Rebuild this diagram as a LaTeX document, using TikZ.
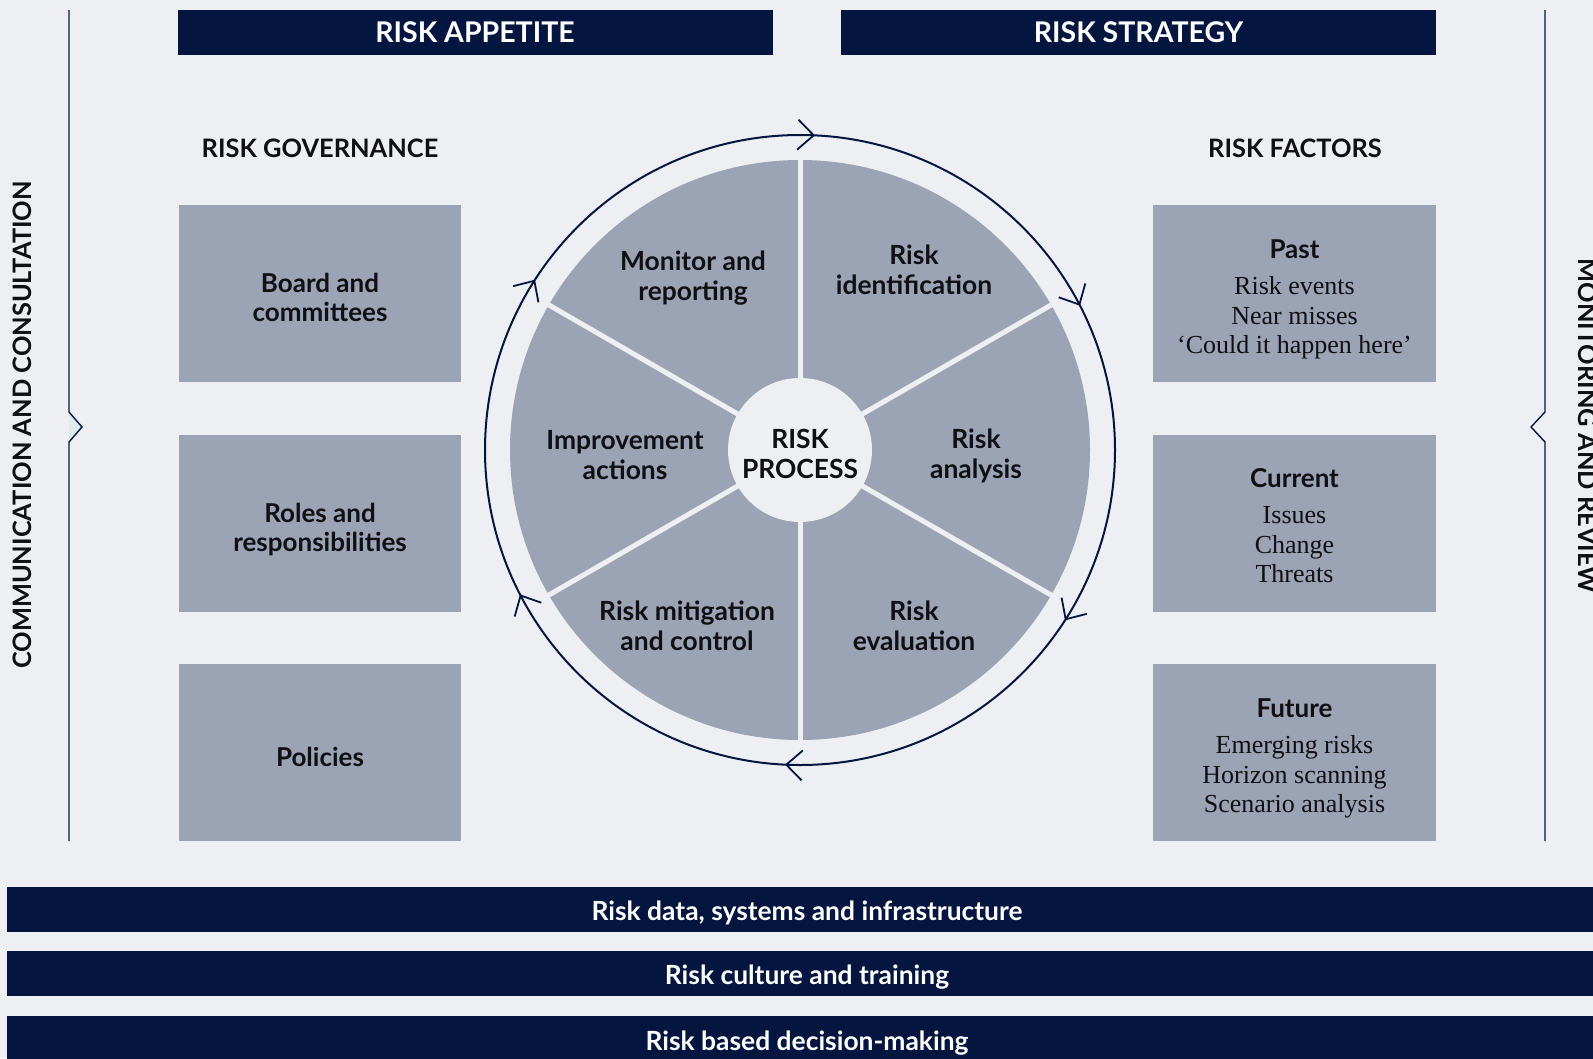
\documentclass[tikz,border=0pt]{standalone}
\usepackage{fontspec}
\setmainfont{Lato}
\newfontfamily\serifb{Liberation Serif}
\definecolor{navy}{RGB}{4,22,64}
\definecolor{bg}{RGB}{237,239,243}
\definecolor{boxg}{RGB}{155,163,181}
\definecolor{ink}{RGB}{15,15,20}
\definecolor{mint}{RGB}{222,236,236}
\begin{document}
\begin{tikzpicture}[x=1pt,y=-1pt,
  topbar/.style={fill=navy,draw=none,minimum width=595pt,minimum height=45pt,inner sep=0pt},
  toptext/.style={text=white,font=\fontsize{28.5}{30}\selectfont\bfseries,inner sep=0pt},
  lowbar/.style={fill=navy,draw=none,minimum width=1610pt,minimum height=45pt,inner sep=0pt},
  lowtext/.style={text=white,font=\fontsize{26.4}{28}\selectfont\bfseries,inner sep=0pt},
  heading/.style={text=ink,font=\fontsize{25.4}{30}\selectfont\bfseries,inner sep=0pt},
  gbox/.style={fill=boxg,draw=none,minimum width=282pt,minimum height=177pt,inner sep=0pt},
  boxlabel/.style={align=center,text=ink,font=\fontsize{26}{29.5}\selectfont\bfseries,inner sep=0pt},
  factlabel/.style={align=center,text=ink,font=\fontsize{26}{29.5}\selectfont,inner sep=0pt},
  seg/.style={align=center,text=ink,font=\fontsize{26.4}{29.5}\selectfont\bfseries,inner sep=0pt},
  sideline/.style={draw=navy,line width=1.4pt},
  ring/.style={draw=navy,line width=2pt},
  barb/.style={draw=navy,line width=1.8pt,line join=miter},
  sepline/.style={draw=bg,line width=5pt}
]
\useasboundingbox (0,0) rectangle (1593,1058);
\clip (0,0) rectangle (1593,1058);
\fill[bg] (0,0) rectangle (1593,1058);

% top bars
\node[topbar] (appetite) at (475,32.5) {};
\node[toptext] (appetitet) at (appetite.center) {RISK APPETITE};
\node[topbar] (strategy) at (1138.5,32.5) {};
\node[toptext] (strategyt) at (strategy.center) {RISK STRATEGY};

% side lines
\fill[mint] (69,412) -- (82,427) -- (69,442) -- cycle;
\draw[sideline] (69,10) -- (69,412) -- (82,427) -- (69,442) -- (69,841);
\draw[sideline] (1545,10) -- (1545,412) -- (1531,427) -- (1545,442) -- (1545,841);
\node[heading,rotate=90] (comm) at (22,425) {COMMUNICATION AND CONSULTATION};
\node[heading,rotate=-90] (monitor) at (1588,426) {MONITORING AND REVIEW};

% headings
\node[heading] (gov) at (320,148) {RISK GOVERNANCE};
\node[heading] (fac) at (1295,148) {RISK FACTORS};

% governance boxes
\node[gbox] (board) at (320,293.5) {};
\node[boxlabel] (boardt) at ([yshift=-4pt]board.center) {Board and\\committees};
\node[gbox] (roles) at (320,523.5) {};
\node[boxlabel] (rolest) at ([yshift=-6pt]roles.center) {Roles and\\responsibilities};
\node[gbox] (policies) at (320,752.5) {};
\node[boxlabel] (policiest) at ([yshift=-4pt]policies.center) {Policies};

% factor boxes
\node[gbox,minimum width=283pt] (past) at (1294.5,293.5) {};
\node[factlabel] (pastt) at ([yshift=-6pt]past.center) {{\bfseries Past}\\[7pt]{\serifb Risk events}\\{\serifb Near misses}\\{\serifb ‘Could it happen here’}};
\node[gbox,minimum width=283pt] (current) at (1294.5,523.5) {};
\node[factlabel] (currentt) at ([yshift=-2pt]current.center) {{\bfseries Current}\\[7pt]{\serifb Issues}\\{\serifb Change}\\{\serifb Threats}};
\node[gbox,minimum width=283pt] (future) at (1294.5,752.5) {};
\node[factlabel] (futuret) at ([yshift=-6pt]future.center) {{\bfseries Future}\\[7pt]{\serifb Emerging risks}\\{\serifb Horizon scanning}\\{\serifb Scenario analysis}};

% wheel
\begin{scope}[shift={(800,450)},y=1pt]
  \fill[boxg] (0,0) circle[radius=290];
  \foreach \a in {30,90,150,210,270,330}
    \draw[sepline] (0,0) -- (\a:292);
  \fill[bg] (0,0) circle[radius=72];
  \draw[ring] (0,0) circle[radius=315];
  \foreach \a in {87.5,27.5,-32.5,-92.5,-152.5,147.5}
    \draw[barb,rotate=\a] (300,16) -- (315,0) -- (330,16);
\end{scope}

\node[seg] (proc) at (800,454) {RISK\\PROCESS};
\node[seg] (ident) at (914,270) {Risk\\identification};
\node[seg] (anal) at (976,456) {Risk\\analysis};
\node[seg] (eval) at (914,626) {Risk\\evaluation};
\node[seg] (mitig) at (687,626) {Risk mitigation\\and control};
\node[seg] (improve) at (625,455) {Improvement\\actions};
\node[seg] (monrep) at (693,278) {Monitor and\\reporting};

% bottom bars
\node[lowbar] (data) at (812,909.5) {};
\node[lowtext] (datat) at (807,912.5) {Risk data, systems and infrastructure};
\node[lowbar] (culture) at (812,973.5) {};
\node[lowtext] (culturet) at (807,977) {Risk culture and training};
\node[lowbar] (decision) at (812,1038.5) {};
\node[lowtext] (decisiont) at (807,1043) {Risk based decision-making};
\end{tikzpicture}
\end{document}
